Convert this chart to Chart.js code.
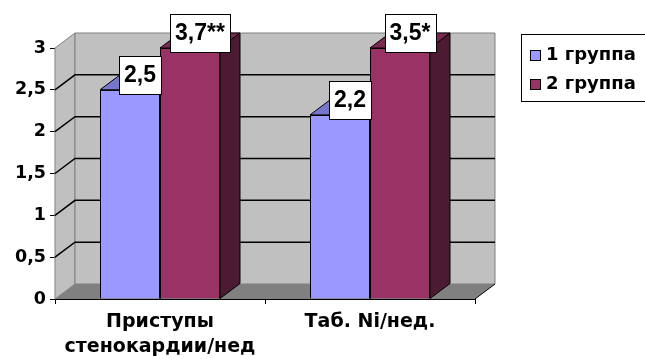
<!DOCTYPE html>
<html lang="ru">
<head>
<meta charset="UTF-8">
<title>Группы</title>
<script src="https://cdn.jsdelivr.net/npm/chart.js@4.4.1/dist/chart.umd.min.js"></script>
<style>
    html, body { margin: 0; padding: 0; background: #fff; }
    canvas { display: block; }
</style>
</head>
<body>
<canvas id="myChart" width="645" height="359"></canvas>
<script>
    const categories = [['Приступы', 'стенокардии/нед'], 'Таб. Ni/нед.'];
    const seriesNames = ['1 группа', '2 группа'];
    const group1 = [2.5, 2.2];
    const group2 = [3.7, 3.5];
    const group1Marks = ['', ''];
    const group2Marks = ['**', '*'];
    const yTicks = [0, 0.5, 1, 1.5, 2, 2.5, 3];

    const DX = 20, DY = 15; // depth of the fake 3d box
    const tickFont = { family: 'DejaVu Sans', size: 17.5, weight: 'bold' };
    const catFont = { family: 'DejaVu Sans', size: 19, weight: 'bold', lineHeight: 1.35 };

    function comma(v) {
        return String(v).replace('.', ',');
    }

    function poly(ctx, pts, fill, stroke) {
        ctx.beginPath();
        ctx.moveTo(pts[0][0], pts[0][1]);
        for (let i = 1; i < pts.length; i++) ctx.lineTo(pts[i][0], pts[i][1]);
        ctx.closePath();
        if (fill) { ctx.fillStyle = fill; ctx.fill(); }
        if (stroke) { ctx.strokeStyle = stroke; ctx.stroke(); }
    }

    const box3d = {
        id: 'box3d',
        beforeDatasetsDraw(chart) {
            const { ctx, chartArea: a, scales: { y } } = chart;
            ctx.save();
            ctx.lineWidth = 1;
            // walls and floor
            poly(ctx, [[a.left, a.top], [a.left + DX, a.top - DY], [a.left + DX, a.bottom - DY], [a.left, a.bottom]], '#c0c0c0', '#808080');
            poly(ctx, [[a.left + DX, a.top - DY], [a.right + DX, a.top - DY], [a.right + DX, a.bottom - DY], [a.left + DX, a.bottom - DY]], '#c0c0c0', '#808080');
            poly(ctx, [[a.left, a.bottom], [a.left + DX, a.bottom - DY], [a.right + DX, a.bottom - DY], [a.right, a.bottom]], '#808080', null);
            ctx.strokeStyle = '#000';
            ctx.beginPath();
            ctx.moveTo(a.right, a.bottom);
            ctx.lineTo(a.right + DX, a.bottom - DY);
            ctx.stroke();
            // grid lines on side and back wall
            ctx.lineWidth = 1.5;
            yTicks.slice(1, -1).forEach(v => {
                const py = y.getPixelForValue(v);
                ctx.beginPath();
                ctx.moveTo(a.left, py);
                ctx.lineTo(a.left + DX, py - DY);
                ctx.lineTo(a.right + DX, py - DY);
                ctx.stroke();
            });
            // tops and sides of the bars
            ctx.lineWidth = 1;
            chart.data.datasets.forEach((ds, i) => {
                chart.getDatasetMeta(i).data.forEach(bar => {
                    const l = bar.x - bar.width / 2, r = bar.x + bar.width / 2;
                    const t = Math.max(bar.y, a.top), b = bar.base;
                    poly(ctx, [[r, t], [r + DX, t - DY], [r + DX, b - DY], [r, b]], ds.sideColor, '#000');
                    poly(ctx, [[l, t], [l + DX, t - DY], [r + DX, t - DY], [r, t]], ds.topColor, '#000');
                });
            });
            ctx.restore();
        },
        afterDatasetsDraw(chart) {
            const { ctx, chartArea: a } = chart;
            ctx.save();
            ctx.font = 'bold 23px "Liberation Sans", Arial, sans-serif';
            ctx.textAlign = 'center';
            ctx.textBaseline = 'middle';
            chart.data.datasets.forEach((ds, i) => {
                chart.getDatasetMeta(i).data.forEach((bar, j) => {
                    const l = bar.x - bar.width / 2, r = bar.x + bar.width / 2;
                    const t = Math.max(bar.y, a.top);
                    ctx.strokeStyle = '#000';
                    ctx.lineWidth = 1;
                    ctx.beginPath();
                    ctx.moveTo(l, t + 0.5);
                    ctx.lineTo(r, t + 0.5);
                    ctx.stroke();
                    // value label
                    const txt = comma(ds.data[j]) + ds.marks[j];
                    const w = ctx.measureText(txt).width + 10, h = 38;
                    const cx = bar.x + DX / 2, cy = t - 15;
                    ctx.fillStyle = '#fff';
                    ctx.fillRect(Math.round(cx - w / 2) + 0.5, Math.round(cy - h / 2) + 0.5, Math.round(w), h);
                    ctx.strokeRect(Math.round(cx - w / 2) + 0.5, Math.round(cy - h / 2) + 0.5, Math.round(w), h);
                    ctx.fillStyle = '#000';
                    ctx.fillText(txt, cx, cy + 1);
                });
            });
            ctx.restore();
        },
        afterDraw(chart) {
            // legend box on the right
            const ctx = chart.ctx;
            ctx.save();
            ctx.lineWidth = 1;
            ctx.strokeStyle = '#000';
            ctx.strokeRect(521.5, 34.5, 200, 67);
            ctx.font = 'bold 18px "DejaVu Sans"';
            ctx.textBaseline = 'middle';
            chart.data.datasets.forEach((ds, i) => {
                const cy = 54 + i * 29;
                ctx.fillStyle = ds.backgroundColor;
                ctx.fillRect(530.5, cy - 3.5, 10, 10);
                ctx.strokeRect(530.5, cy - 3.5, 10, 10);
                ctx.fillStyle = '#000';
                ctx.fillText(ds.label, 546, cy + 1);
            });
            ctx.restore();
        }
    };

    const ctx = document.getElementById('myChart').getContext('2d');
    const chart = new Chart(ctx, {
        type: 'bar',
        data: {
            labels: categories,
            datasets: [
                {
                    label: seriesNames[0],
                    data: group1,
                    marks: group1Marks,
                    backgroundColor: '#9999ff',
                    topColor: '#7676cc',
                    sideColor: '#5c5c99',
                    borderColor: '#000',
                    borderWidth: 1,
                    categoryPercentage: 120 / 210,
                    barPercentage: 1,
                    clip: 0
                },
                {
                    label: seriesNames[1],
                    data: group2,
                    marks: group2Marks,
                    backgroundColor: '#993366',
                    topColor: '#7a2952',
                    sideColor: '#4d1a33',
                    borderColor: '#000',
                    borderWidth: 1,
                    categoryPercentage: 120 / 210,
                    barPercentage: 1,
                    clip: 0
                }
            ]
        },
        options: {
            responsive: false,
            animation: false,
            devicePixelRatio: 1,
            layout: { padding: { top: 48, right: 170, left: 0, bottom: 0 } },
            plugins: {
                legend: { display: false },
                tooltip: { enabled: false }
            },
            scales: {
                x: {
                    offset: true,
                    grid: { offset: true, drawOnChartArea: false, tickLength: 5, color: '#000' },
                    border: { color: '#000' },
                    ticks: { font: catFont, color: '#000', padding: 5, maxRotation: 0 },
                    afterFit: s => { s.height = 60; }
                },
                y: {
                    min: 0,
                    max: 3,
                    grid: { drawOnChartArea: false, tickLength: 5, color: '#000' },
                    border: { color: '#000' },
                    afterBuildTicks: s => { s.ticks = yTicks.map(v => ({ value: v })); },
                    ticks: { font: tickFont, color: '#000', padding: 4, callback: v => comma(v) },
                    afterFit: s => { s.width = 55; }
                }
            }
        },
        plugins: [box3d]
    });
</script>
</body>
</html>
